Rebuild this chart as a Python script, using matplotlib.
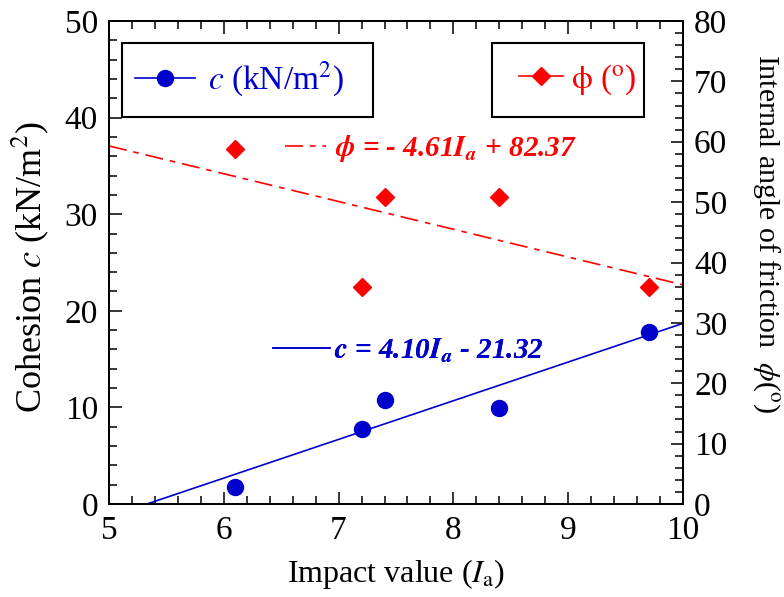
import matplotlib

matplotlib.use("Agg")

import matplotlib.pyplot as plt
from matplotlib.lines import Line2D
from matplotlib.patches import Rectangle

# data
impact = [6.1, 7.2, 7.4, 8.4, 9.7]
cohesion = [1.8, 7.8, 10.8, 9.9, 17.8]
friction = [58.8, 35.9, 50.8, 50.8, 35.9]

# regression lines (end points)
c_fit_x = [5.33, 10.0]
c_fit_y = [0.0, 18.7]
phi_fit_x = [5.0, 10.0]
phi_fit_y = [59.3, 36.3]

x_ticks = [5, 6, 7, 8, 9, 10]
c_ticks = [0, 10, 20, 30, 40, 50]
phi_ticks = [0, 10, 20, 30, 40, 50, 60, 70, 80]

BLUE = "#0000CD"
RED = "#FF0000"
SERIF = ["Liberation Serif", "DejaVu Serif"]

plt.rcParams["font.family"] = SERIF
plt.rcParams["mathtext.fontset"] = "stix"
plt.rcParams["lines.scale_dashes"] = False
FS = 24

fig = plt.figure(figsize=(7.84, 5.97), dpi=100)
ax = fig.add_axes([109 / 784, 1 - 504 / 597, 574 / 784, 483 / 597])
ax2 = ax.twinx()

dash = (0, (13, 5, 4, 5))

ax.plot(c_fit_x, c_fit_y, color=BLUE, lw=1.2, zorder=2)
ax.plot(impact, cohesion, "o", color=BLUE, ms=11.5, zorder=3)
ax2.plot(phi_fit_x, phi_fit_y, color=RED, lw=1.2, linestyle=dash, zorder=2)
ax2.plot(impact, friction, "D", color=RED, ms=9, zorder=3)

ax.set_xlim(5, 10)
ax.set_ylim(0, 50)
ax2.set_ylim(0, 80)
ax.set_xticks(x_ticks)
ax.set_yticks(c_ticks)
ax2.set_yticks(phi_ticks)
ax.set_xticks([5 + 0.2 * i for i in range(26)], minor=True)
ax.set_yticks([2 * i for i in range(26)], minor=True)
ax2.set_yticks([2 * i for i in range(41)], minor=True)

for a in (ax, ax2):
    for s in a.spines.values():
        s.set_linewidth(1.3)
ax.tick_params(which="both", direction="in", top=True, right=False,
               width=1.1, labelsize=FS)
ax.tick_params(which="major", length=9)
ax.tick_params(which="minor", length=5.5)
ax.tick_params(axis="x", pad=8)
ax.tick_params(axis="y", pad=8)
ax2.tick_params(which="both", direction="in", width=1.1, labelsize=FS, pad=8)
ax2.tick_params(which="major", length=9)
ax2.tick_params(which="minor", length=5.5)

ax.set_xlabel(r"Impact value ($I_{\rm a}$)", fontsize=23, labelpad=8,
              fontfamily=SERIF)
ax.set_ylabel(r"Cohesion $c$ (kN/m$^2$)", fontsize=26, va="center",
              fontfamily=SERIF)
ax.yaxis.set_label_coords(-0.138, 0.49)
ax2.set_ylabel(r"Internal angle of friction  $\phi$($^{\rm o}$)",
               fontsize=21.5, rotation=-90, va="center", fontfamily=SERIF)
ax2.yaxis.set_label_coords(1.145, 0.56)

# legend frames
for x0, w in [(0.0226, 0.437), (0.667, 0.265)]:
    ax2.add_patch(Rectangle((x0, 0.801), w, 0.153, transform=ax2.transAxes,
                            fill=False, ec="black", lw=1.5, clip_on=False,
                            zorder=5))


def legend(handle, label, color, x, y, hl, pad, size, bold=False):
    lg = ax2.legend([handle], [label], loc="center left",
                    bbox_to_anchor=(x, y), bbox_transform=ax2.transAxes,
                    frameon=False, borderpad=0, borderaxespad=0,
                    handlelength=hl, handletextpad=pad, fontsize=size)
    for t in lg.get_texts():
        t.set_color(color)
        if bold:
            t.set_fontweight("bold")
            t.set_fontstyle("italic")
    ax2.add_artist(lg)


legend(Line2D([], [], color=BLUE, lw=1.2, marker="o", ms=11.5),
       r"$c$ (kN/m$^2$)", BLUE, 0.045, 0.878, 1.8, 0.39, 24)
legend(Line2D([], [], color=RED, lw=1.2, marker="D", ms=9),
       r"$\mathrm{\phi}$ ($^{\rm o}$)", RED, 0.714, 0.878, 1.32, 0.24, 24)
legend(Line2D([], [], color=RED, lw=1.2, linestyle=dash),
       r"$\mathbfit{\phi}$ = - 4.61$\mathbfit{I_a}$ + 82.37", RED,
       0.306, 0.735, 1.41, 0.33, 21, bold=True)
legend(Line2D([], [], color=BLUE, lw=1.2),
       r"$\mathbfit{c}$ = 4.10$\mathbfit{I_a}$ - 21.32", BLUE,
       0.285, 0.318, 1.96, 0.16, 21, bold=True)

fig.savefig("out.png", dpi=100)
